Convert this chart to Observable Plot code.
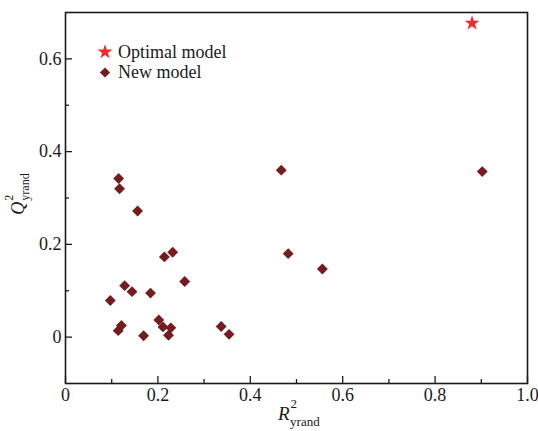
<!DOCTYPE html>
<html>
<head>
<meta charset="utf-8">
<script src="https://cdn.jsdelivr.net/npm/d3@7"></script>
<script src="https://cdn.jsdelivr.net/npm/@observablehq/plot@0.6"></script>
<style>
  html, body { margin: 0; padding: 0; background: #fff; }
  svg { display: block; }
</style>
</head>
<body>
<div id="chart"></div>
<script>
// New model (random y-randomization models)
const newR2 = [0.902, 0.467, 0.482, 0.556, 0.115, 0.117, 0.156, 0.214, 0.232, 0.258,
               0.128, 0.144, 0.184, 0.097, 0.121, 0.114, 0.169, 0.202, 0.211, 0.228,
               0.223, 0.337, 0.354];
const newQ2 = [0.357, 0.360, 0.180, 0.147, 0.342, 0.320, 0.272, 0.173, 0.183, 0.120,
               0.111, 0.098, 0.095, 0.079, 0.025, 0.014, 0.003, 0.037, 0.022, 0.020,
               0.004, 0.023, 0.006];
// Optimal model
const optR2 = [0.880];
const optQ2 = [0.677];

const xTicks = [0, 0.2, 0.4, 0.6, 0.8, 1.0];
const xMinor = [0.1, 0.3, 0.5, 0.7, 0.9];
const yTicks = [0, 0.2, 0.4, 0.6];
const yMinor = [0.1, 0.3, 0.5];
const tickLabel = d => d === 0 ? "0" : d.toFixed(1);

const legendItems = ["Optimal model", "New model"];
const colDiamond = "#761c1f";
const colStar = "#f42a2a";

const newModel = newR2.map((r, i) => ({r2: r, q2: newQ2[i]}));
const optimal = optR2.map((r, i) => ({r2: r, q2: optQ2[i]}));

const W = 538, H = 431;
const mL = 65, mR = 11, mT = 12, mB = 48;
const font = "'Liberation Serif', 'Times New Roman', serif";

const chart = Plot.plot({
  width: W, height: H,
  marginLeft: mL, marginRight: mR, marginTop: mT, marginBottom: mB,
  x: {domain: [0, 1]},
  y: {domain: [-0.1, 0.7]},
  style: {fontFamily: font, fontSize: "18px", color: "#1a1a1a", background: "#fff"},
  marks: [
    Plot.axisX(xTicks, {tickSize: 0, tickPadding: 5, tickFormat: tickLabel, label: null, fontSize: 18}),
    Plot.axisX(xTicks, {tickSize: 7, text: null, dy: -7, label: null, strokeWidth: 1.3}),
    Plot.axisX(xMinor, {tickSize: 4, text: null, dy: -4, label: null, strokeWidth: 1.3}),
    Plot.axisY(yTicks, {tickSize: 0, tickPadding: 4, tickFormat: tickLabel, label: null, fontSize: 18}),
    Plot.axisY(yTicks, {tickSize: 7, text: null, dx: 7, label: null, strokeWidth: 1.3}),
    Plot.axisY(yMinor, {tickSize: 4, text: null, dx: 4, label: null, strokeWidth: 1.3}),
    Plot.frame({stroke: "#1a1a1a", strokeWidth: 1.6}),
    Plot.dot(newModel, {x: "r2", y: "q2", symbol: "diamond2", r: 4.9, fill: colDiamond, stroke: "none"}),
    Plot.dot(optimal, {x: "r2", y: "q2", symbol: "star", r: 4.7, fill: colStar, stroke: "none"})
  ]
});

document.getElementById("chart").appendChild(chart);

const svg = d3.select(chart);

// Legend
const lg = svg.append("g")
  .attr("font-family", font).attr("font-size", 18).attr("fill", "#1a1a1a")
  .attr("text-anchor", "start");
const symArea = r => Math.PI * r * r;
const diamondType = d3.symbolDiamond2 || d3.symbolDiamond;
lg.append("path")
  .attr("transform", "translate(105,52)")
  .attr("d", d3.symbol(d3.symbolStar, symArea(4.7))())
  .attr("fill", colStar);
lg.append("path")
  .attr("transform", "translate(105,72.5)")
  .attr("d", d3.symbol(diamondType, symArea(4.6))())
  .attr("fill", colDiamond);
lg.append("text").attr("x", 118).attr("y", 58).attr("text-anchor", "start").text(legendItems[0]);
lg.append("text").attr("x", 118).attr("y", 78).attr("text-anchor", "start").text(legendItems[1]);

// X axis label: R^2_yrand
const xl = svg.append("text")
  .attr("x", 278).attr("y", 420)
  .attr("text-anchor", "start")
  .attr("font-family", font).attr("fill", "#1a1a1a");
xl.append("tspan").attr("font-style", "italic").attr("font-size", 19).text("R");
xl.append("tspan").attr("font-size", 13).attr("dy", -12).attr("dx", 1).text("2");
xl.append("tspan").attr("font-size", 13).attr("dy", 18).attr("dx", -7).text("yrand");

// Y axis label: Q^2_yrand
const yl = svg.append("text")
  .attr("transform", `translate(24,194) rotate(-90)`)
  .attr("text-anchor", "middle")
  .attr("font-family", font).attr("fill", "#1a1a1a");
yl.append("tspan").attr("font-style", "italic").attr("font-size", 18).text("Q");
yl.append("tspan").attr("font-size", 12).attr("dy", -11).attr("dx", 1).text("2");
yl.append("tspan").attr("font-size", 12).attr("dy", 16).attr("dx", -6).text("yrand");
</script>
</body>
</html>
